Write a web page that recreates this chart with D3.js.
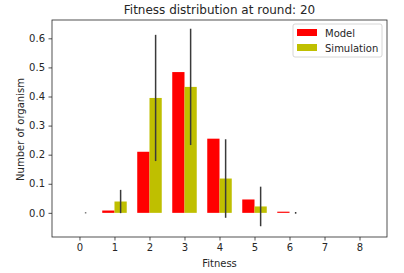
<!DOCTYPE html>
<html>
<head>
<meta charset="utf-8">
<script src="https://cdn.jsdelivr.net/npm/d3@7"></script>
<style>
  body { margin: 0; background: #fff; }
  svg { font-family: "DejaVu Sans", sans-serif; }
</style>
</head>
<body>
<div id="chart"></div>
<script>
const fitness = [0, 1, 2, 3, 4, 5, 6, 7, 8];
const model = [0, 0.008, 0.21, 0.484, 0.255, 0.046, 0.004, 0, 0];
const simulation = [0, 0.039, 0.395, 0.433, 0.118, 0.022, 0, 0, 0];
const simError = [0, 0.04, 0.217, 0.2, 0.135, 0.068, 0.003, 0, 0];
const yTicks = [0.0, 0.1, 0.2, 0.3, 0.4, 0.5, 0.6];
const seriesNames = ["Model", "Simulation"];
const seriesColors = ["#ff0000", "#bfbf00"];

const w = 404, h = 273;
const margin = {left: 52, right: 17, top: 20, bottom: 36};
const barW = 0.35;

const svg = d3.select("#chart").append("svg")
    .attr("width", w).attr("height", h);

const x = d3.scaleLinear()
    .domain([-0.785, 8.785])
    .range([margin.left, w - margin.right]);
const y = d3.scaleLinear()
    .domain([-0.083, 0.663])
    .range([h - margin.bottom, margin.top]);

// bars
svg.append("g").selectAll("rect")
    .data(fitness)
    .enter().append("rect")
    .attr("x", d => x(d - barW))
    .attr("width", x(barW) - x(0))
    .attr("y", (d, i) => y(model[i]))
    .attr("height", (d, i) => y(0) - y(model[i]))
    .attr("fill", seriesColors[0]);

svg.append("g").selectAll("rect")
    .data(fitness)
    .enter().append("rect")
    .attr("x", d => x(d))
    .attr("width", x(barW) - x(0))
    .attr("y", (d, i) => y(simulation[i]))
    .attr("height", (d, i) => y(0) - y(simulation[i]))
    .attr("fill", seriesColors[1]);

// error bars (only where simulation has data)
svg.append("g").selectAll("line")
    .data(fitness.filter(d => d <= 6))
    .enter().append("line")
    .attr("x1", d => x(d + barW / 2))
    .attr("x2", d => x(d + barW / 2))
    .attr("y1", d => y(simulation[d] - simError[d]) + (simError[d] === 0 ? 0.5 : 0))
    .attr("y2", d => y(simulation[d] + simError[d]) - (simError[d] === 0 ? 0.5 : 0))
    .attr("stroke", "#3a3a3a")
    .attr("stroke-width", 1.5);

// axes
const xAxis = svg.append("g")
    .attr("transform", `translate(0,${h - margin.bottom})`)
    .call(d3.axisBottom(x).tickValues(fitness).tickSize(3.5).tickPadding(3.5));
const yAxis = svg.append("g")
    .attr("transform", `translate(${margin.left},0)`)
    .call(d3.axisLeft(y).tickValues(yTicks).tickFormat(d3.format(".1f")).tickSize(3.5).tickPadding(3.5));

[xAxis, yAxis].forEach(g => {
    g.select(".domain").remove();
    g.selectAll("text").attr("font-size", 10).attr("fill", "#262626")
        .attr("font-family", "DejaVu Sans, sans-serif");
    g.selectAll("line").attr("stroke", "#262626").attr("stroke-width", 0.8);
});

// frame
svg.append("rect")
    .attr("x", margin.left).attr("y", margin.top)
    .attr("width", w - margin.left - margin.right)
    .attr("height", h - margin.top - margin.bottom)
    .attr("fill", "none")
    .attr("stroke", "#262626")
    .attr("stroke-width", 0.8);

// title and labels
svg.append("text")
    .attr("x", (margin.left + w - margin.right) / 2)
    .attr("y", 14)
    .attr("text-anchor", "middle")
    .attr("font-size", 12)
    .attr("fill", "#262626")
    .text("Fitness distribution at round: 20");

svg.append("text")
    .attr("x", (margin.left + w - margin.right) / 2)
    .attr("y", 267)
    .attr("text-anchor", "middle")
    .attr("font-size", 10)
    .attr("fill", "#262626")
    .text("Fitness");

svg.append("text")
    .attr("transform", `translate(23.5,${(margin.top + h - margin.bottom) / 2 + 1}) rotate(-90)`)
    .attr("text-anchor", "middle")
    .attr("font-size", 10)
    .attr("fill", "#262626")
    .text("Number of organism");

// legend
const legend = svg.append("g").attr("transform", "translate(293,24)");
legend.append("rect")
    .attr("width", 89).attr("height", 33)
    .attr("rx", 2)
    .attr("fill", "#fff").attr("fill-opacity", 0.8)
    .attr("stroke", "#cccccc").attr("stroke-width", 0.8);
seriesNames.forEach((name, i) => {
    legend.append("rect")
        .attr("x", 4).attr("y", 5 + i * 15)
        .attr("width", 20).attr("height", 7)
        .attr("fill", seriesColors[i]);
    legend.append("text")
        .attr("x", 32).attr("y", 12.5 + i * 15)
        .attr("font-size", 10)
        .attr("fill", "#262626")
        .text(name);
});
</script>
</body>
</html>
